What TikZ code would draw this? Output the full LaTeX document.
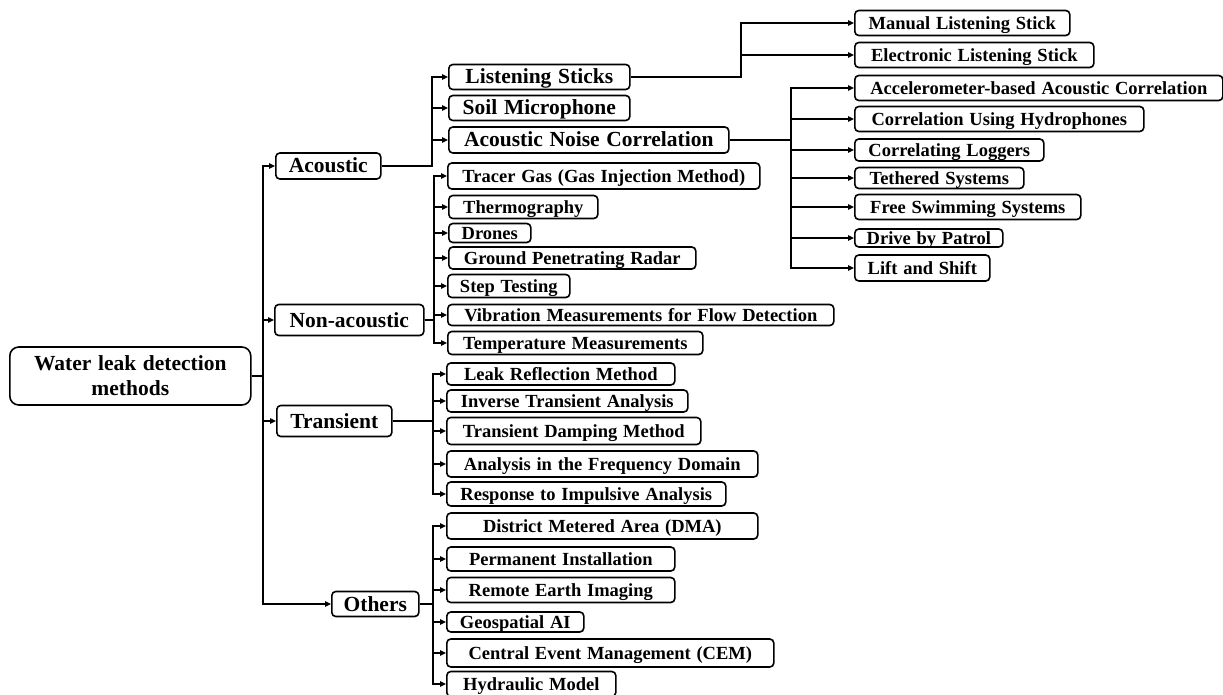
\documentclass[tikz,border=0pt]{standalone}
\usepackage{fontspec}
\setmainfont{Liberation Serif}[WordSpace=1.25]
\usetikzlibrary{arrows.meta}

\begin{document}
\begin{tikzpicture}[x=1pt,y=-1pt,every node/.style={font=\bfseries},box/.style={draw=black,line width=1.6pt,rounded corners=4pt,anchor=west,inner sep=0pt,align=center},big/.style={box,font=\bfseries\fontsize{21.5}{25}\selectfont,text height=14pt,text depth=0pt},small/.style={box,font=\bfseries\fontsize{18.5}{21}\selectfont,text height=12.2pt,text depth=0pt},conn/.style={line width=1.2pt,-{Triangle[length=6pt,width=5.5pt]}}]
\useasboundingbox (0,0) rectangle (1223,695);
\clip (0,0) rectangle (1223,695);
\coordinate (tr) at (263,0);
\coordinate (ja) at (432,0);
\coordinate (jls) at (741,0);
\coordinate (janc) at (791,0);
\coordinate (jn) at (434,0);
\coordinate (jt) at (433,0);
\coordinate (jo) at (433,0);
\node[box,font=\bfseries\fontsize{21.5}{25}\selectfont,rounded corners=9pt,minimum width=241,minimum height=58] (root) at (9,376) {Water leak detection\\methods};
\node[big,minimum width=105,minimum height=26] (acou) at (275,166) {Acoustic};
\draw[conn] (root.east) -- (root.east -| tr) |- (acou.west);
\node[big,minimum width=149,minimum height=31] (nonac) at (274,320) {Non-acoustic};
\draw[conn] (root.east) -- (root.east -| tr) |- (nonac.west);
\node[big,minimum width=115,minimum height=31] (trans) at (276,421) {Transient};
\draw[conn] (root.east) -- (root.east -| tr) |- (trans.west);
\node[big,minimum width=87,minimum height=25] (oth) at (331,604) {Others};
\draw[conn] (root.east) -- (root.east -| tr) |- (oth.west);
% acoustic
\node[big,minimum width=181,minimum height=25] (lstk) at (448,77) {Listening Sticks};
\draw[conn] (acou.east) -- (acou.east -| ja) |- (lstk.west);
\node[big,minimum width=181,minimum height=25] (soil) at (448,108) {Soil Microphone};
\draw[conn] (acou.east) -- (acou.east -| ja) |- (soil.west);
\node[big,minimum width=280,minimum height=26] (anc) at (448,140) {Acoustic Noise Correlation};
\draw[conn] (acou.east) -- (acou.east -| ja) |- (anc.west);
\node[small,minimum width=215,minimum height=25] (man) at (854,23) {Manual Listening Stick};
\draw[conn] (lstk.east) -- (lstk.east -| jls) |- (man.west);
\node[small,minimum width=239,minimum height=25] (ele) at (854,55) {Electronic Listening Stick};
\draw[conn] (lstk.east) -- (lstk.east -| jls) |- (ele.west);
\node[small,minimum width=368,minimum height=25] (acc) at (854,88) {Accelerometer-based Acoustic Correlation};
\draw[conn] (anc.east) -- (anc.east -| janc) |- (acc.west);
\node[small,minimum width=289,minimum height=25] (hydr) at (854,119) {Correlation Using Hydrophones};
\draw[conn] (anc.east) -- (anc.east -| janc) |- (hydr.west);
\node[small,minimum width=189,minimum height=22] (clog) at (854,150) {Correlating Loggers};
\draw[conn] (anc.east) -- (anc.east -| janc) |- (clog.west);
\node[small,minimum width=169,minimum height=21] (teth) at (854,178) {Tethered Systems};
\draw[conn] (anc.east) -- (anc.east -| janc) |- (teth.west);
\node[small,minimum width=226,minimum height=25] (free) at (854,207) {Free Swimming Systems};
\draw[conn] (anc.east) -- (anc.east -| janc) |- (free.west);
\node[small,minimum width=148,minimum height=18] (drv) at (854,238) {Drive by Patrol};
\draw[conn] (anc.east) -- (anc.east -| janc) |- (drv.west);
\node[small,minimum width=135,minimum height=26] (lift) at (854,268) {Lift and Shift};
\draw[conn] (anc.east) -- (anc.east -| janc) |- (lift.west);
% non-acoustic
\node[small,minimum width=312,minimum height=26] (trac) at (447,176) {Tracer Gas (Gas Injection Method)};
\draw[conn] (nonac.east) -- (nonac.east -| jn) |- (trac.west);
\node[small,minimum width=149,minimum height=23] (ther) at (448,207) {Thermography};
\draw[conn] (nonac.east) -- (nonac.east -| jn) |- (ther.west);
\node[small,minimum width=82,minimum height=19] (dron) at (448,233) {Drones};
\draw[conn] (nonac.east) -- (nonac.east -| jn) |- (dron.west);
\node[small,minimum width=247,minimum height=22] (gpr) at (448,258) {Ground Penetrating Radar};
\draw[conn] (nonac.east) -- (nonac.east -| jn) |- (gpr.west);
\node[small,minimum width=122,minimum height=23] (stept) at (447,286) {Step Testing};
\draw[conn] (nonac.east) -- (nonac.east -| jn) |- (stept.west);
\node[small,minimum width=386,minimum height=21] (vib) at (447,315) {Vibration Measurements for Flow Detection};
\draw[conn] (nonac.east) -- (nonac.east -| jn) |- (vib.west);
\node[small,minimum width=255,minimum height=23] (temp) at (447,343) {Temperature Measurements};
\draw[conn] (nonac.east) -- (nonac.east -| jn) |- (temp.west);
% transient
\node[small,minimum width=228,minimum height=22] (lrm) at (446,374) {Leak Reflection Method};
\draw[conn] (trans.east) -- (trans.east -| jt) |- (lrm.west);
\node[small,minimum width=241,minimum height=22] (ita) at (446,401) {Inverse Transient Analysis};
\draw[conn] (trans.east) -- (trans.east -| jt) |- (ita.west);
\node[small,minimum width=254,minimum height=27] (tdm) at (446,431) {Transient Damping Method};
\draw[conn] (trans.east) -- (trans.east -| jt) |- (tdm.west);
\node[small,minimum width=311,minimum height=26] (afd) at (446,464) {Analysis in the Frequency Domain};
\draw[conn] (trans.east) -- (trans.east -| jt) |- (afd.west);
\node[small,minimum width=279,minimum height=24] (ria) at (446,494) {Response to Impulsive Analysis};
\draw[conn] (trans.east) -- (trans.east -| jt) |- (ria.west);
% others
\node[small,minimum width=311,minimum height=26] (dma) at (446,526) {District Metered Area (DMA)};
\draw[conn] (oth.east) -- (oth.east -| jo) |- (dma.west);
\node[small,minimum width=228,minimum height=24] (pinst) at (446,559) {Permanent Installation};
\draw[conn] (oth.east) -- (oth.east -| jo) |- (pinst.west);
\node[small,minimum width=228,minimum height=25] (rei) at (446,590) {Remote Earth Imaging};
\draw[conn] (oth.east) -- (oth.east -| jo) |- (rei.west);
\node[small,minimum width=137,minimum height=20] (gai) at (446,622) {Geospatial AI};
\draw[conn] (oth.east) -- (oth.east -| jo) |- (gai.west);
\node[small,minimum width=327,minimum height=28] (cem) at (446,653) {Central Event Management (CEM)};
\draw[conn] (oth.east) -- (oth.east -| jo) |- (cem.west);
\node[small,minimum width=169,minimum height=25] (hmod) at (446,684) {Hydraulic Model};
\draw[conn] (oth.east) -- (oth.east -| jo) |- (hmod.west);
\end{tikzpicture}
\end{document}
